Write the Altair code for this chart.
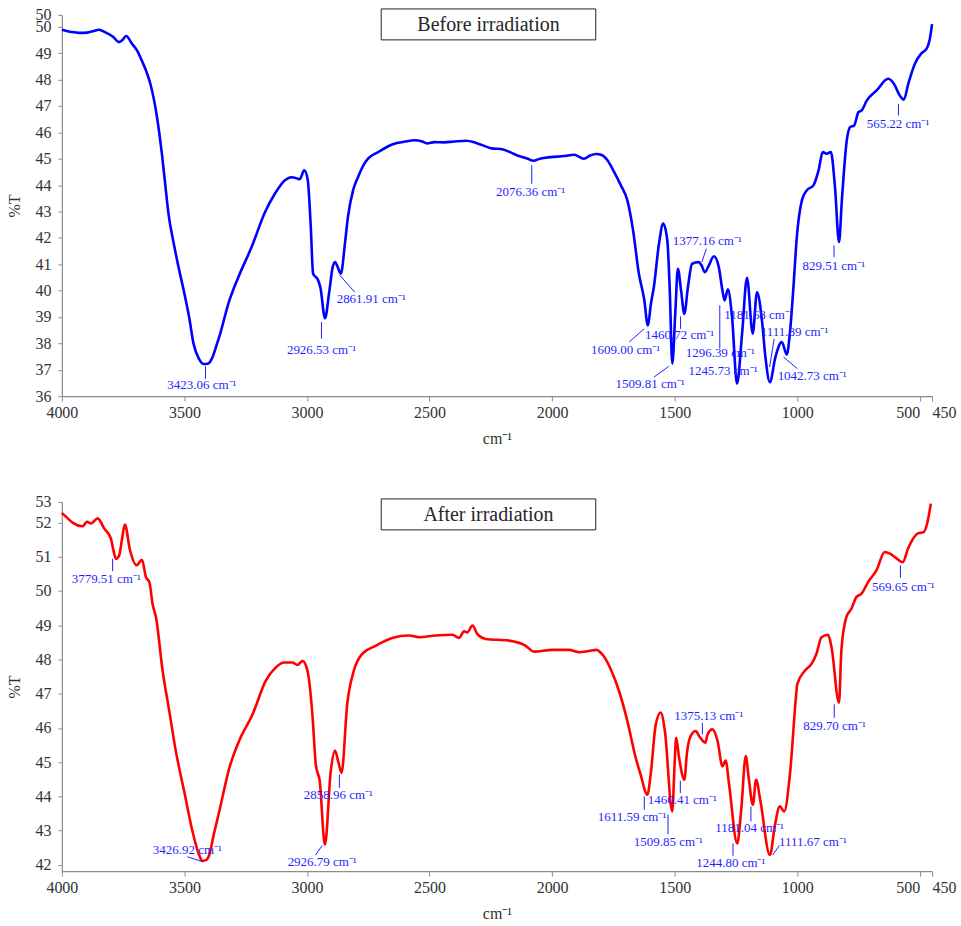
import altair as alt
import pandas as pd

# ---------------- FTIR spectra (wavenumber in cm-1, transmittance in %T) ----------------
wn_before = [4000, 3960, 3930, 3897, 3870, 3849, 3822, 3790, 3768, 3755, 3738, 3714, 3690,
             3673, 3655, 3639, 3612, 3592, 3578, 3565, 3545, 3524, 3497, 3480, 3463, 3440,
             3423.06, 3405, 3388, 3370, 3354, 3321, 3280, 3226, 3171, 3131, 3090, 3063, 3040,
             3030, 3011, 2997, 2985, 2975, 2955, 2945, 2926.53, 2910, 2895, 2885, 2875,
             2861.91, 2845, 2833, 2812, 2792, 2770, 2751, 2710, 2650, 2600, 2560, 2530, 2510,
             2480, 2440, 2400, 2350, 2310, 2250, 2200, 2141, 2100, 2076.36, 2050, 2006, 1950,
             1910, 1890, 1870, 1845, 1820, 1800, 1775, 1750, 1720, 1693, 1670, 1646, 1625,
             1609.00, 1597, 1585, 1564, 1547, 1530, 1520, 1509.81, 1497, 1487, 1474, 1460.72,
             1446, 1429, 1402, 1390, 1377.16, 1361, 1340, 1320, 1305, 1296.39, 1283, 1266,
             1245.73, 1225, 1205, 1181.68, 1164, 1144, 1130, 1111.89, 1089, 1063, 1042.73,
             1029, 1015, 1002, 981, 961, 934, 913, 896, 880, 863, 846, 829.51, 818, 798, 784,
             768, 750, 737, 716, 676, 629, 602, 585, 565.22, 547, 520, 493, 472, 460, 450]
t_before = [49.89, 49.80, 49.77, 49.78, 49.84, 49.89, 49.79, 49.61, 49.42, 49.48, 49.65, 49.36, 49.05,
            48.70, 48.30, 47.84, 46.58, 45.19, 44.00, 42.91, 41.85, 40.89, 39.75, 38.95, 37.99, 37.40,
            37.22, 37.23, 37.42, 37.90, 38.37, 39.50, 40.51, 41.65, 42.98, 43.67, 44.18, 44.30, 44.25,
            44.22, 44.56, 44.20, 42.50, 40.64, 40.40, 40.10, 38.95, 39.90, 40.90, 41.08, 40.90,
            40.64, 41.80, 42.79, 43.80, 44.30, 44.75, 45.00, 45.25, 45.55, 45.65, 45.70, 45.65, 45.58,
            45.63, 45.62, 45.65, 45.68, 45.60, 45.40, 45.35, 45.12, 45.00, 44.92, 45.00, 45.06, 45.10,
            45.15, 45.07, 45.00, 45.12, 45.18, 45.15, 44.95, 44.55, 44.00, 43.42, 42.30, 40.64, 39.70,
            38.68, 39.50, 40.13, 41.78, 42.54, 41.90, 40.00, 37.23, 39.25, 40.83, 40.01, 39.12,
            40.13, 41.02, 41.08, 40.95, 40.70, 40.95, 41.30, 40.89, 40.00, 39.63, 40.05, 39.00,
            36.47, 38.37, 40.49, 38.37, 39.94, 38.87, 37.50, 36.53, 37.48, 38.05, 37.58,
            38.49, 40.20, 42.00, 43.42, 43.80, 43.99, 44.56, 45.25, 45.19, 45.25, 43.92, 41.84, 43.42, 45.69, 46.20,
            46.26, 46.77, 46.83, 47.21, 47.59, 48.03, 47.78, 47.45, 47.24, 47.84, 48.60, 49.00, 49.17, 49.50, 50.10]

wn_after = [4000, 3976, 3955, 3915, 3898, 3881, 3854, 3827, 3800, 3790, 3779.51, 3766, 3755,
            3743, 3722, 3695, 3673, 3657, 3643, 3630, 3616, 3589, 3562, 3535, 3501, 3467, 3440,
            3426.92, 3410, 3399, 3380, 3358, 3317, 3277, 3222, 3168, 3127, 3093, 3059, 3039,
            3018, 2998, 2978, 2964, 2948, 2926.79, 2903, 2886, 2872, 2858.96, 2836, 2809, 2775,
            2720, 2652, 2584, 2543, 2475, 2407, 2380, 2359, 2346, 2325, 2305, 2271, 2176, 2108,
            2074, 1999, 1931, 1890, 1850, 1820, 1790, 1760, 1727, 1693, 1659, 1639, 1611.59,
            1598, 1577, 1557, 1540, 1509.85, 1500, 1494, 1482, 1460.41, 1450, 1435, 1414, 1400,
            1375.13, 1366, 1346, 1325, 1305, 1292, 1278, 1244.80, 1228, 1210, 1198, 1181.04,
            1168, 1150, 1111.67, 1091, 1071, 1053, 1030, 1003, 1000, 969, 942, 922, 901, 874,
            860, 829.70, 820, 800, 779, 759, 738, 711, 677, 643, 622, 602, 569.65, 548, 508,
            484, 470, 455]
t_after = [52.28, 52.12, 51.99, 51.89, 52.02, 51.97, 52.12, 51.82, 51.53, 51.20, 50.94, 51.04, 51.50,
           51.94, 51.19, 50.75, 50.91, 50.40, 50.26, 49.62, 49.23, 47.67, 46.50, 45.32, 44.15, 42.98, 42.29,
           42.12, 42.15, 42.29, 42.90, 43.56, 44.83, 45.62, 46.40, 47.38, 47.77, 47.91, 47.91, 47.84,
           47.96, 47.67, 46.40, 44.93, 44.44, 42.59, 44.74, 45.34, 45.00, 44.69, 46.69, 47.67, 48.16,
           48.40, 48.63, 48.70, 48.65, 48.70, 48.72, 48.63, 48.82, 48.79, 48.99, 48.74, 48.60, 48.55, 48.40,
           48.23, 48.28, 48.28, 48.21, 48.25, 48.28, 48.10, 47.70, 47.08, 46.20, 45.13, 44.64, 44.05,
           44.64, 46.11, 46.45, 45.91, 43.56, 45.00, 45.71, 45.13, 44.49, 45.27, 45.76, 45.91, 45.76,
           45.57, 45.81, 45.96, 45.62, 44.88, 45.05, 44.35, 42.63, 43.66, 45.18, 44.54, 43.76,
           44.49, 43.86, 42.29, 43.17, 43.71, 43.56, 44.64, 47.08, 47.28, 47.67, 47.87, 48.16, 48.65, 48.72,
           48.35, 46.74, 48.26, 49.23, 49.48, 49.82, 49.92, 50.26, 50.60, 51.14, 51.09, 50.99, 50.84, 51.24, 51.68,
           51.72, 51.97, 52.55]

# ---------------- peak annotations ----------------
# label text, label centre (wavenumber, %T), leader line from (x1, y1) to (x2, y2)
before_peaks = ["3423.06", "2926.53", "2861.91", "2076.36", "1609.00", "1509.81", "1460.72",
                "1377.16", "1296.39", "1245.73", "1181.68", "1111.89", "1042.73", "829.51", "565.22"]
before_lab_x = [3429, 2941, 2738, 2088, 1700, 1600, 1480, 1367, 1314, 1303, 1158, 1011, 939, 851, 589]
before_lab_y = [36.41, 37.73, 39.69, 43.72, 37.76, 36.47, 38.30, 41.88, 37.63, 36.95, 39.06, 38.43, 36.78, 40.93, 46.33]
before_x1 = [3414, 2941, 2866, 2083, 1625, 1524, 1476, 1371, 1316, None, None, 1094, 1056, 850, 587]
before_y1 = [37.13, 38.81, 40.58, 44.75, 38.55, 37.13, 39.02, 41.59, 39.44, None, None, 38.18, 37.48, 41.71, 47.08]
before_x2 = [3414, 2941, 2805, 2083, 1686, 1585, 1476, 1389, 1316, None, None, 1113, 999, 850, 587]
before_y2 = [36.66, 38.18, 39.94, 44.05, 38.05, 36.72, 38.55, 41.08, 37.80, None, None, 37.10, 37.04, 41.27, 46.64]

after_peaks = ["3779.51", "3426.92", "2926.79", "2858.96", "1375.13", "1611.59", "1460.41",
               "1509.85", "1181.04", "1244.80", "1111.67", "829.70", "569.65"]
after_lab_x = [3819, 3488, 2938, 2872, 1361, 1674, 1469, 1526, 1194, 1271, 936, 848, 567]
after_lab_y = [50.36, 42.44, 42.10, 44.03, 46.35, 43.39, 43.91, 42.68, 43.09, 42.05, 42.66, 46.06, 50.11]
after_x1 = [3793, 3488, 2938, 2868, 1387, 1624, 1477, 1527, 1189, 1262, 1073, 849, 579]
after_y1 = [50.94, 42.24, 42.57, 44.64, 46.15, 44.00, 44.46, 43.47, 43.71, 42.63, 42.57, 46.69, 50.75]
after_x2 = [3793, 3427, 2965, 2868, 1387, 1624, 1477, 1527, 1189, 1262, 1100, 849, 579]
after_y2 = [50.58, 42.10, 42.29, 44.25, 45.81, 43.61, 44.10, 42.90, 43.27, 42.27, 42.29, 46.30, 50.39]

x_ticks = [4000, 3500, 3000, 2500, 2000, 1500, 1000, 500, 450]
y_ticks_before = [36, 37, 38, 39, 40, 41, 42, 43, 44, 45, 46, 47, 48, 49, 50, 50.45]
y_ticks_after = [42, 43, 44, 45, 46, 47, 48, 49, 50, 51, 52, 52.6]

FONT = "Liberation Serif"
ANNOT = "#1f1fff"
W = 872


def panel(wn, t, peaks, lx, ly, x1, y1, x2, y2, ydom, yticks, color, title, h, box_top):
    spec = pd.DataFrame({"wn": wn, "t": t})
    xs = alt.Scale(domain=[450, 4000], reverse=True, nice=False, zero=False)
    ys = alt.Scale(domain=ydom, nice=False, zero=False)
    x_axis = alt.Axis(
        values=x_ticks, title="cm⁻¹", format="d", labelFlush=False, labelOverlap=False,
        tickSize=5, labelPadding=3, titlePadding=10, grid=False,
        labelAlign={"condition": [{"test": "datum.value == 500", "value": "right"},
                                  {"test": "datum.value == 450", "value": "left"}],
                    "value": "center"})
    y_axis = alt.Axis(values=yticks, title="%T", labelExpr="'' + round(datum.value)",
                      labelOverlap=False, labelFlush=False, tickSize=4, labelPadding=7,
                      titlePadding=12, grid=False)

    line = alt.Chart(spec).mark_line(color=color, strokeWidth=2.6, interpolate="monotone").encode(
        x=alt.X("wn:Q", scale=xs, axis=x_axis),
        y=alt.Y("t:Q", scale=ys, axis=y_axis),
        order=alt.Order("wn:Q", sort="descending"),
    )

    lab = pd.DataFrame({"txt": [p + " cm⁻¹" for p in peaks], "lx": lx, "ly": ly,
                        "x1": x1, "y1": y1, "x2": x2, "y2": y2})
    leaders = alt.Chart(lab).transform_filter("isValid(datum.x1)").mark_rule(
        color=ANNOT, strokeWidth=1).encode(
        x=alt.X("x1:Q", scale=xs, axis=x_axis), y=alt.Y("y1:Q", scale=ys, axis=y_axis),
        x2="x2:Q", y2="y2:Q")
    texts = alt.Chart(lab).mark_text(font=FONT, fontSize=13, color=ANNOT,
                                     align="center", baseline="middle").encode(
        x=alt.X("lx:Q", scale=xs, axis=x_axis), y=alt.Y("ly:Q", scale=ys, axis=y_axis),
        text="txt:N")

    head = pd.DataFrame({"name": [title]})
    box = alt.Chart(head).mark_rect(fill="white", stroke="#222222", strokeWidth=1).encode(
        x=alt.value(320), x2=alt.value(535), y=alt.value(box_top), y2=alt.value(box_top + 31))
    head_txt = alt.Chart(head).mark_text(font=FONT, fontSize=20, color="#262626",
                                         align="center", baseline="middle").encode(
        x=alt.value(427.5), y=alt.value(box_top + 16), text="name:N")

    return alt.layer(line, leaders, texts, box, head_txt).properties(width=W, height=h)


top = panel(wn_before, t_before, before_peaks, before_lab_x, before_lab_y,
            before_x1, before_y1, before_x2, before_y2, [36, 50.45], y_ticks_before,
            "#0000ff", "Before irradiation", 382, -6)
bottom = panel(wn_after, t_after, after_peaks, after_lab_x, after_lab_y,
               after_x1, after_y1, after_x2, after_y2, [41.82, 52.6], y_ticks_after,
               "#ff0000", "After irradiation", 370, -3)

chart = alt.vconcat(top, bottom, spacing=48).properties(
    padding={"top": 6, "left": 7, "right": 5, "bottom": 5},
    background="white",
).configure_view(stroke=None).configure_axis(
    grid=False, domainColor="#8c8c8c", tickColor="#8c8c8c", domainWidth=1.2,
    labelColor="#333333", labelFont=FONT, labelFontSize=16,
    titleFont=FONT, titleFontSize=16, titleFontWeight="normal", titleColor="#333333",
)

chart.save("out.html", embed_options={"renderer": "svg", "actions": False})
